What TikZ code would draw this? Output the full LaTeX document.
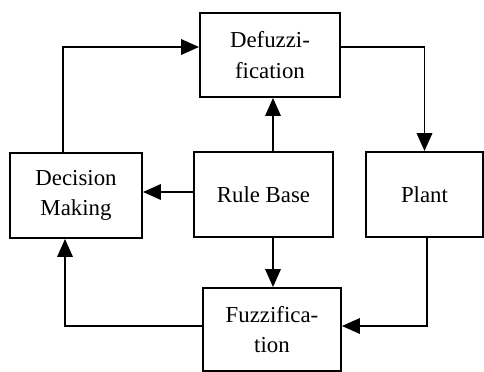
\documentclass[tikz,border=0pt]{standalone}
\usepackage{fontspec}
\setmainfont{Liberation Serif}
\usetikzlibrary{arrows.meta}
\tikzset{
  block/.style={rectangle,draw,line width=1.1pt,align=center,inner sep=1pt,
    font=\fontsize{13}{17.5}\selectfont},
  flow/.style={draw,line width=1.1pt,-{Triangle[length=0.36cm,width=0.31cm]}}
}
\begin{document}
\begin{tikzpicture}[x=0.02cm,y=-0.02cm]
            \useasboundingbox (0,0) rectangle (484,372);
            \node[block,minimum width=2.8cm,minimum height=1.68cm] (defuzz) at (270,55) {Defuzzi-\\fication};
            \node[block,minimum width=2.64cm,minimum height=1.7cm] (decision) at (76,195.5) {Decision\\Making};
            \node[block,minimum width=2.78cm,minimum height=1.7cm] (rulebase) at (263.5,194.5) {Rule Base};
            \node[block,minimum width=2.34cm,minimum height=1.7cm] (plant) at (424.5,194.5) {Plant};
            \node[block,minimum width=2.76cm,minimum height=1.66cm] (fuzz) at (272,329.5) {Fuzzifica-\\tion};
            \coordinate (rb left) at ([yshift=0.05cm]rulebase.west);
            \draw[flow] ([xshift=-0.26cm]decision.north) |- ([yshift=0.16cm]defuzz.west);
            \draw[flow] ([yshift=0.16cm]defuzz.east) -| (plant.north);
            \draw[flow] ([xshift=0.19cm]rulebase.north) -- ([xshift=0.06cm]defuzz.south);
            \draw[flow] (rb left) -- (rb left -| decision.east);
            \draw[flow] ([xshift=0.19cm]rulebase.south) -- ([xshift=0.02cm]fuzz.north);
            \draw[flow] ([xshift=0.05cm]plant.south) |- ([yshift=0.07cm]fuzz.east);
            \draw[flow] ([yshift=0.07cm]fuzz.west) -| ([xshift=-0.22cm]decision.south);
        \end{tikzpicture}
\end{document}
